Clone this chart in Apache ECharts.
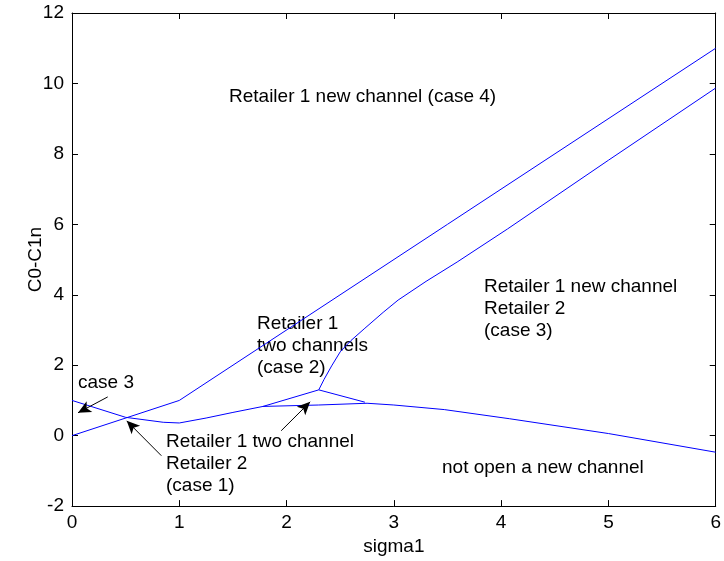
<!DOCTYPE html>
<html><head><meta charset="utf-8">
<script src="https://cdn.jsdelivr.net/npm/echarts@6/dist/echarts.min.js"></script>
<style>html,body{margin:0;padding:0;background:#fff}#c{width:724px;height:561px}</style>
</head><body><div id="c"></div>
<script>
const xTicks = [0,1,2,3,4,5,6];
const yTicks = [-2,0,2,4,6,8,10,12];
const lineA = [[0,0],[1,1],[6,11]];
const lineB = [[2.3,1.3],[2.35,1.6],[2.42,1.98],[2.5,2.38],[2.6,2.7],[2.73,3.05],[2.9,3.5],[3.04,3.85],[3.3,4.38],[3.59,4.93],[4.06,5.87],[5,7.82],[6,9.87]];
const lineC = [[0,1],[0.5,0.52],[0.85,0.38],[1.0,0.36],[1.25,0.5],[1.5,0.66],[1.78,0.83],[2.3,0.87],[2.75,0.92],[3.0,0.87],[3.47,0.74],[4.08,0.48],[5,0.06],[6,-0.47]];
const lineD = [[1.78,0.83],[2.3,1.3],[2.73,0.95]];
const arrows = [
  [[0.333,1.10],[0.056,0.65]],
  [[0.833,-0.57],[0.51,0.42]],
  [[1.95,0.14],[2.22,0.96]]
];
const notes = [
  {text:'Retailer 1 new channel (case 4)', left:229, top:86},
  {text:'Retailer 1 new channel\nRetailer 2\n(case 3)', left:484, top:276},
  {text:'Retailer 1\ntwo channels\n(case 2)', left:257, top:313},
  {text:'case 3', left:78, top:372},
  {text:'Retailer 1 two channel\nRetailer 2\n(case 1)', left:166, top:431},
  {text:'not open a new channel', left:442, top:457}
];
const FONT = 'Liberation Sans, Arial, sans-serif';
const FS = 19;
const chart = echarts.init(document.getElementById('c'));
const lineStyle = {color:'#0000ff', width:1};
const mk = d => ({type:'line', data:d, symbol:'none', lineStyle, silent:true, animation:false, xAxisIndex:0, yAxisIndex:0});
const arrowSeries = {
  type:'line', data:[], xAxisIndex:0, yAxisIndex:0, animation:false,
  markLine:{silent:true, animation:false, symbol:['none','arrow'], symbolSize:[9,13],
    lineStyle:{color:'#000', width:1, type:'solid'}, label:{show:false},
    data: arrows.map(a => [{coord:a[0]},{coord:a[1]}])}
};
const axisCommon = {
  axisLine:{onZero:false, lineStyle:{color:'#000', width:1}},
  axisTick:{inside:true, length:6, lineStyle:{color:'#000'}},
  splitLine:{show:false}
};
chart.setOption({
  animation:false,
  grid:{left:72, right:4, top:13, bottom:53},
  xAxis:[
    Object.assign({type:'value', min:0, max:6, interval:1, position:'bottom',
     name:'sigma1', nameLocation:'middle', nameGap:27, nameTextStyle:{color:'#000', fontSize:FS, fontFamily:FONT},
     axisLabel:{color:'#000', fontSize:FS, fontFamily:FONT, margin:7}}, axisCommon),
    Object.assign({type:'value', min:0, max:6, interval:1, position:'top', axisLabel:{show:false}}, axisCommon)
  ],
  yAxis:[
    Object.assign({type:'value', min:-2, max:12, interval:2, position:'left',
     name:'C0-C1n', nameLocation:'middle', nameGap:27, nameRotate:90, nameMoveOverlap:false,
     nameTextStyle:{color:'#000', fontSize:FS, fontFamily:FONT},
     axisLabel:{color:'#000', fontSize:FS, fontFamily:FONT, margin:8}}, axisCommon),
    Object.assign({type:'value', min:-2, max:12, interval:2, position:'right', axisLabel:{show:false}}, axisCommon)
  ],
  series:[mk(lineA), mk(lineB), mk(lineC), mk(lineD), arrowSeries],
  graphic: notes.map(n => ({type:'text', left:n.left, top:n.top, silent:true,
    style:{text:n.text, fill:'#000', font:FS + 'px ' + FONT, lineHeight:22}}))
});
</script></body></html>
